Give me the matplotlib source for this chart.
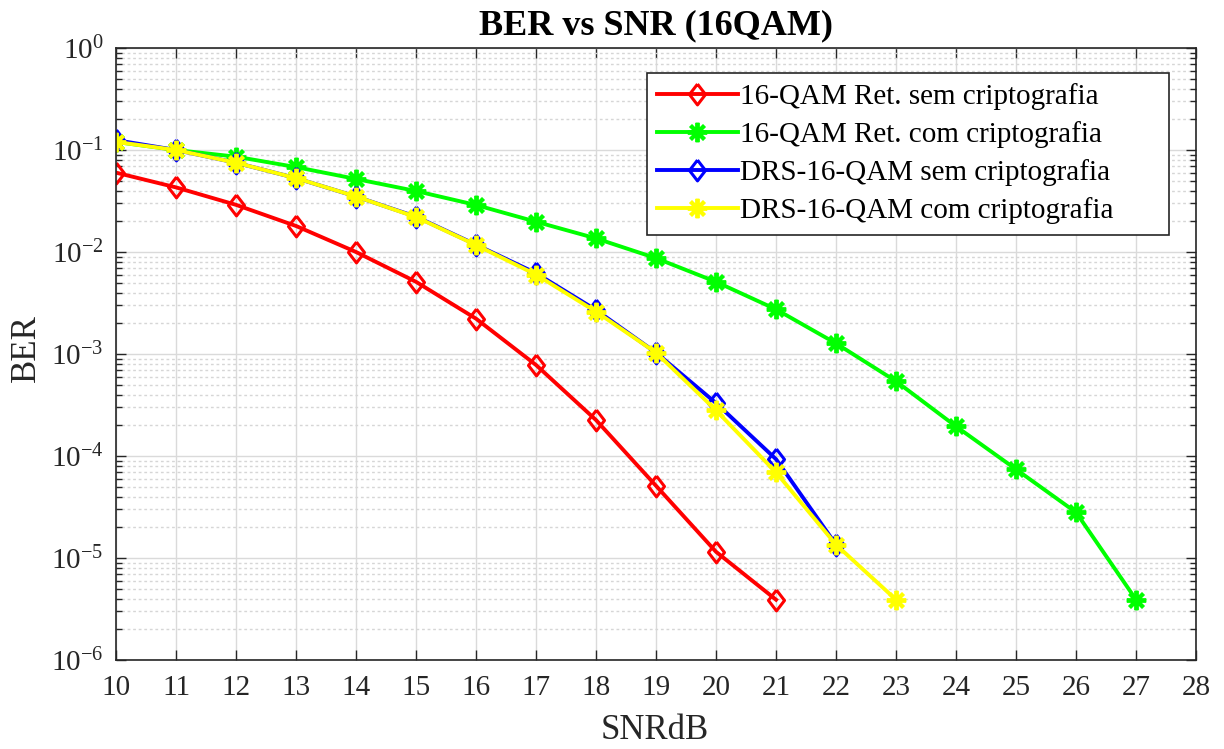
import numpy as np
import matplotlib
matplotlib.use("Agg")
import matplotlib.pyplot as plt
from matplotlib.ticker import LogLocator, NullFormatter

plt.rcParams['font.family'] = ['Liberation Serif', 'DejaVu Serif']
plt.rcParams['mathtext.fontset'] = 'custom'
plt.rcParams['mathtext.rm'] = 'Liberation Serif'
plt.rcParams['mathtext.it'] = 'Liberation Serif:italic'
plt.rcParams['mathtext.bf'] = 'Liberation Serif:bold'

# SNR in dB for each curve
snr_ret = np.arange(10, 22)
snr_ret_cripto = np.arange(10, 28)
snr_drs = np.arange(10, 23)
snr_drs_cripto = np.arange(10, 24)

# BER values
ber_ret = [0.06, 0.043, 0.029, 0.018, 0.010, 0.0051, 0.00222, 7.8e-4,
           2.25e-4, 5.1e-5, 1.15e-5, 3.9e-6]
ber_ret_cripto = [0.12, 0.10, 0.086, 0.068, 0.052, 0.0396, 0.0289, 0.0198,
                  0.0136, 0.0087, 0.0051, 0.00274, 0.00127, 5.4e-4,
                  1.95e-4, 7.4e-5, 2.8e-5, 3.9e-6]
ber_drs = [0.125, 0.10, 0.075, 0.053, 0.035, 0.0222, 0.0118, 0.0062,
           0.0027, 0.00103, 3.3e-4, 9.3e-5, 1.35e-5]
ber_drs_cripto = [0.12, 0.10, 0.075, 0.053, 0.035, 0.022, 0.0117, 0.0060,
                  0.0026, 0.00103, 2.8e-4, 6.9e-5, 1.35e-5, 3.9e-6]

labels = ['16-QAM Ret. sem criptografia', '16-QAM Ret. com criptografia',
          'DRS-16-QAM sem criptografia', 'DRS-16-QAM com criptografia']

fig = plt.figure(figsize=(12.24, 7.49), dpi=100)
ax = fig.add_axes([0.0948, 0.1188, 0.8824, 0.8171])

# matlab-like diamond (a bit taller than wide) and 8-arm asterisk
diamond = [(0, 1), (0.77, 0), (0, -1), (-0.77, 0), (0, 1)]
star = (8, 2, 0)
lw = 2.8
ax.semilogy(snr_ret, ber_ret, '-', color='#ff0000', lw=lw, marker=diamond,
            ms=15, mfc='none', mew=2.2, label=labels[0])
ax.semilogy(snr_ret_cripto, ber_ret_cripto, '-', color='#00ff00', lw=lw,
            marker=star, ms=14, mew=2.8, label=labels[1])
ax.semilogy(snr_drs, ber_drs, '-', color='#0000ff', lw=lw, marker=diamond,
            ms=15, mfc='none', mew=2.2, label=labels[2])
ax.semilogy(snr_drs_cripto, ber_drs_cripto, '-', color='#ffff00', lw=lw,
            marker=star, ms=14, mew=2.8, label=labels[3])

ax.set_xlim(10, 28)
ax.set_ylim(1e-6, 1)
ax.set_xticks(np.arange(10, 29))
ax.yaxis.set_major_locator(LogLocator(base=10, numticks=10))
ax.yaxis.set_minor_locator(LogLocator(base=10, subs=np.arange(2, 10), numticks=20))
ax.yaxis.set_minor_formatter(NullFormatter())

ax.grid(True, which='major', color='#dadada', lw=1.0, ls='-')
ax.grid(True, which='minor', axis='y', color='#d6d6d6', lw=1.0, ls=(0, (2, 2)))
ax.set_axisbelow(True)

ax.tick_params(which='both', direction='in', top=True, right=True,
               colors='#262626', labelsize=21)
ax.tick_params(which='major', length=7, width=1.0)
ax.tick_params(which='minor', length=4, width=1.0)
ax.tick_params(axis='x', pad=11)
ax.tick_params(axis='y', pad=9)
for s in ax.spines.values():
    s.set_color('#262626')
    s.set_linewidth(1.2)

ax.set_xlabel('SNRdB', fontsize=25, color='#262626')
ax.set_ylabel('BER', fontsize=25, color='#262626')
ax.xaxis.set_label_coords(0.499, -0.088)
ax.yaxis.set_label_coords(-0.068, 0.51)
ax.set_title('BER vs SNR (16QAM)', fontsize=26, fontweight='bold', pad=10)

leg = ax.legend(loc='upper left', bbox_to_anchor=(0.4917, 0.0, 0.4833, 0.959),
                mode='expand', borderaxespad=0, fontsize=21, frameon=True,
                fancybox=False, edgecolor='#262626', framealpha=1,
                handlelength=2.75, handletextpad=0.1, labelspacing=0.38,
                borderpad=0.35)
leg.get_frame().set_linewidth(1.2)

fig.savefig('out.png', dpi=100)
